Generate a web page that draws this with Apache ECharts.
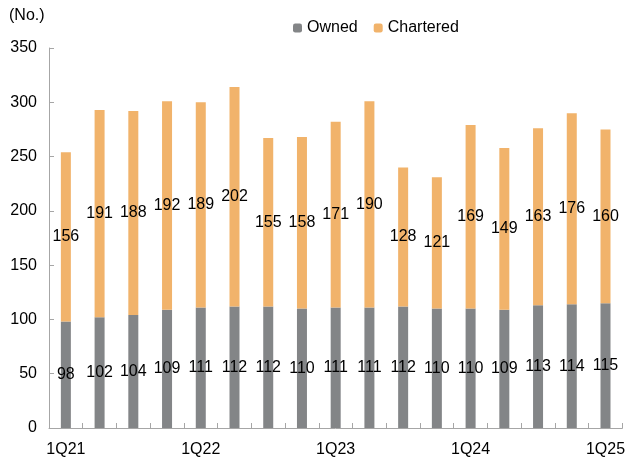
<!DOCTYPE html>
<html><head><meta charset="utf-8">
<script src="https://cdn.jsdelivr.net/npm/echarts@6/dist/echarts.min.js"></script>
<style>html,body{margin:0;padding:0;background:#fff}#c{width:628px;height:463px}</style>
</head><body><div id="c"></div>
<script>
const categories = ['1Q21','2Q21','3Q21','4Q21','1Q22','2Q22','3Q22','4Q22','1Q23','2Q23','3Q23','4Q23','1Q24','2Q24','3Q24','4Q24','1Q25'];
const owned = [98,102,104,109,111,112,112,110,111,111,112,110,110,109,113,114,115];
const chartered = [156,191,188,192,189,202,155,158,171,190,128,121,169,149,163,176,160];
const yTicks = [0,50,100,150,200,250,300,350];

const font = '"Liberation Sans Narrow","Liberation Sans",Arial,sans-serif';
const chart = echarts.init(document.getElementById('c'));
chart.setOption({
  animation: false,
  textStyle: {fontFamily: font},
  legend: {
    top: 15, left: 288, itemWidth: 9, itemHeight: 9, itemGap: 16,
    textStyle: {fontFamily: font, fontSize: 16, color: '#000'},
    data: ['Owned','Chartered']
  },
  graphic: [{type:'text', left: 9, top: 8, style:{text:'(No.)', font:'16px '+font, fill:'#000'}}],
  grid: {left: 49, right: 3, top: 48, bottom: 35},
  xAxis: {
    type: 'category', data: categories,
    axisLine: {lineStyle: {color: '#a6a6a6'}},
    axisTick: {show: true, alignWithLabel: false, inside: true, length: 5, lineStyle: {color: '#a6a6a6'}},
    axisLabel: {
      interval: 0, color: '#000', fontSize: 16, margin: 14,
      formatter: (v, i) => (i % 4 === 0 ? v : '')
    }
  },
  yAxis: {
    type: 'value', min: yTicks[0], max: yTicks[yTicks.length-1], interval: 50,
    axisLine: {show: true, lineStyle: {color: '#a6a6a6'}},
    axisTick: {show: true, inside: true, length: 5, lineStyle: {color: '#a6a6a6'}},
    splitLine: {show: false},
    axisLabel: {color: '#000', fontSize: 16, margin: 12}
  },
  series: [
    {name: 'Owned', type: 'bar', stack: 'a', data: owned, barWidth: 10,
     itemStyle: {color: '#838587'},
     label: {show: true, position: 'inside', color: '#000', fontSize: 16, fontFamily: font}},
    {name: 'Chartered', type: 'bar', stack: 'a', data: chartered, barWidth: 10,
     itemStyle: {color: '#F1B36B'},
     label: {show: true, position: 'inside', color: '#000', fontSize: 16, fontFamily: font}}
  ]
});
</script></body></html>
